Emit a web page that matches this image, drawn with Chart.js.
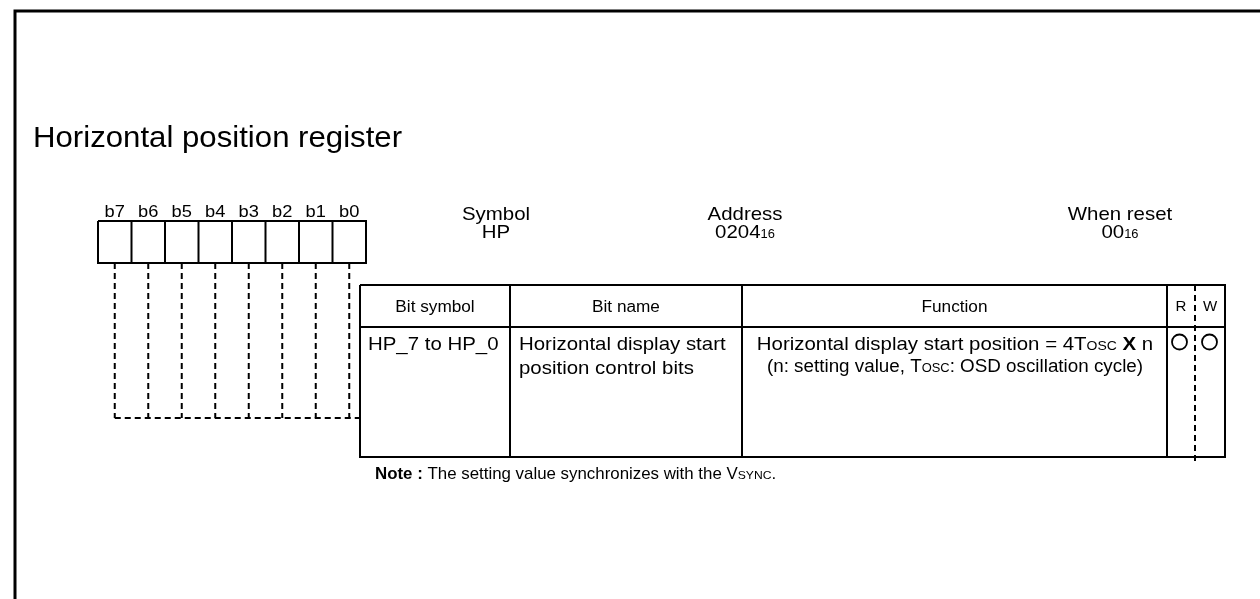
<!DOCTYPE html>
<html><head><meta charset="utf-8">
<script src="https://cdn.jsdelivr.net/npm/chart.js@4/dist/chart.umd.min.js"></script>
<style>html,body{margin:0;padding:0;background:#fff;overflow:hidden}canvas{display:block}</style>
</head><body>
<canvas id="c" width="1260" height="599" style="width:1260px;height:599px"></canvas>
<script>
// ---- content (text) ----
const titleText = 'Horizontal position register';
const bitLabels = ['b7','b6','b5','b4','b3','b2','b1','b0'];
const metaLabels = ['Symbol','Address','When reset'];
const metaValues = ['HP','0204','00'];
const metaSubscripts = ['','16','16'];
const tableHeaders = ['Bit symbol','Bit name','Function','R','W'];
const bitSymbolText = ['HP_7 to HP_0'];
const bitNameText = ['Horizontal display start','position control bits'];
const functionLine1 = ['Horizontal display start position = 4T','OSC',' ','X',' n'];
const functionLine2 = ['(n: setting value, T','OSC',': OSD oscillation cycle)'];
const readWriteMarks = ['R','W'];   // both columns carry a circle mark
const noteBold = 'Note :';
const noteText = [' The setting value synchronizes with the V','SYNC','.'];

// ---- layout ----
const FONT = '"Liberation Sans", Arial, Helvetica, sans-serif';
const SX = 1.075; // horizontal text stretch of the reference
const W = 1260, H = 599;
const box = {x0: 98, x1: 366, y0: 221, y1: 263};
const cellW = (box.x1 - box.x0) / bitLabels.length;
const bitCenters = bitLabels.map((_, i) => box.x0 + cellW * (i + 0.5));
const dashBottom = 418;
const tbl = {x0: 360, x1: 1225, y0: 285, yh: 327, y1: 457};
const colX = [360, 510, 742, 1167, 1195, 1225];

function seg(points, extra) {
  return Object.assign({
    data: points.map(p => ({x: p[0], y: p[1]})),
    showLine: true, borderColor: '#000', borderWidth: 2,
    pointRadius: 0, pointHoverRadius: 0, fill: false, tension: 0,
    borderCapStyle: 'butt'
  }, extra || {});
}

const datasets = [];
// outer frame
datasets.push(seg([[15, 620], [15, 11], [1290, 11]], {borderWidth: 3}));
// bit boxes
datasets.push(seg([[box.x0, box.y0], [box.x1, box.y0], [box.x1, box.y1], [box.x0, box.y1], [box.x0, box.y0]]));
for (let i = 1; i < bitLabels.length; i++) {
  const x = box.x0 + cellW * i;
  datasets.push(seg([[x, box.y0], [x, box.y1]]));
}
// dashed connectors
bitCenters.forEach(x => datasets.push(seg([[x, box.y1], [x, dashBottom]], {borderDash: [6, 4]})));
datasets.push(seg([[bitCenters[0], dashBottom], [tbl.x0, dashBottom]], {borderDash: [6, 4]}));
// table
datasets.push(seg([[tbl.x0, tbl.y0], [tbl.x1, tbl.y0], [tbl.x1, tbl.y1], [tbl.x0, tbl.y1], [tbl.x0, tbl.y0]]));
datasets.push(seg([[tbl.x0, tbl.yh], [tbl.x1, tbl.yh]]));
[colX[1], colX[2], colX[3]].forEach(x => datasets.push(seg([[x, tbl.y0], [x, tbl.y1]])));
datasets.push(seg([[colX[4], tbl.y0], [colX[4], tbl.y1 + 5]], {borderDash: [6, 4]}));
// R / W circles
datasets.push({
  data: readWriteMarks.map((_, i) => ({x: i === 0 ? 1179.5 : 1209.5, y: 342})),
  showLine: false, pointStyle: 'circle', pointRadius: 7.5, pointHoverRadius: 7.5,
  pointBorderWidth: 1.8, pointBorderColor: '#000', pointBackgroundColor: '#fff'
});

function rich(ctx, parts, x, y, align) {
  // parts: [text, size, bold]
  const widths = parts.map(p => { ctx.font = (p[2] ? 'bold ' : '') + p[1] + 'px ' + FONT; return ctx.measureText(p[0]).width * SX; });
  const total = widths.reduce((a, b) => a + b, 0);
  let cx = align === 'center' ? x - total / 2 : x;
  ctx.textAlign = 'left';
  ctx.textBaseline = 'alphabetic';
  parts.forEach((p, i) => {
    ctx.font = (p[2] ? 'bold ' : '') + p[1] + 'px ' + FONT;
    ctx.save();
    ctx.translate(cx, y);
    ctx.scale(SX, 1);
    ctx.fillText(p[0], 0, 0);
    ctx.restore();
    cx += widths[i];
  });
}

const textPlugin = {
  id: 'diagramText',
  afterDatasetsDraw(chart) {
    const ctx = chart.ctx, xs = chart.scales.x, ys = chart.scales.y;
    const X = v => xs.getPixelForValue(v), Y = v => ys.getPixelForValue(v);
    ctx.save();
    ctx.fillStyle = '#000';
    rich(ctx, [[titleText, 29]], X(33), Y(147), 'left');
    bitLabels.forEach((t, i) => rich(ctx, [[t, 17]], X(bitCenters[i]), Y(217), 'center'));
    const metaX = [496, 745, 1120];
    metaLabels.forEach((t, i) => {
      rich(ctx, [[t, 19]], X(metaX[i]), Y(220), 'center');
      const parts = [[metaValues[i], 19]];
      if (metaSubscripts[i]) parts.push([metaSubscripts[i], 12]);
      rich(ctx, parts, X(metaX[i]), Y(238), 'center');
    });
    const hdrX = [(colX[0] + colX[1]) / 2, (colX[1] + colX[2]) / 2, (colX[2] + colX[3]) / 2];
    tableHeaders.slice(0, 3).forEach((t, i) => rich(ctx, [[t, 16]], X(hdrX[i]), Y(312), 'center'));
    rich(ctx, [[tableHeaders[3], 14]], X(1181), Y(311), 'center');
    rich(ctx, [[tableHeaders[4], 14]], X(1210), Y(311), 'center');
    rich(ctx, [[bitSymbolText[0], 19]], X(368), Y(350), 'left');
    rich(ctx, [[bitNameText[0], 19]], X(519), Y(350), 'left');
    rich(ctx, [[bitNameText[1], 19]], X(519), Y(374), 'left');
    rich(ctx, [[functionLine1[0], 19], [functionLine1[1], 13], [functionLine1[2], 19], [functionLine1[3], 19, true], [functionLine1[4], 19]], X(955), Y(350), 'center');
    rich(ctx, [[functionLine2[0], 17.5], [functionLine2[1], 12], [functionLine2[2], 17.5]], X(955), Y(372), 'center');
    rich(ctx, [[noteBold, 15.7, true], [noteText[0], 15.7], [noteText[1], 11.3], [noteText[2], 15.7]], X(375), Y(479), 'left');
    ctx.restore();
  }
};

new Chart(document.getElementById('c'), {
  type: 'scatter',
  data: {datasets},
  options: {
    responsive: false, animation: false, devicePixelRatio: 1,
    layout: {padding: 0, autoPadding: false},
    events: [],
    plugins: {legend: {display: false}, tooltip: {enabled: false}, title: {display: false}},
    scales: {
      x: {type: 'linear', min: 0, max: W, display: false},
      y: {type: 'linear', min: 0, max: H, reverse: true, display: false}
    }
  },
  plugins: [textPlugin]
});
</script>
</body></html>
